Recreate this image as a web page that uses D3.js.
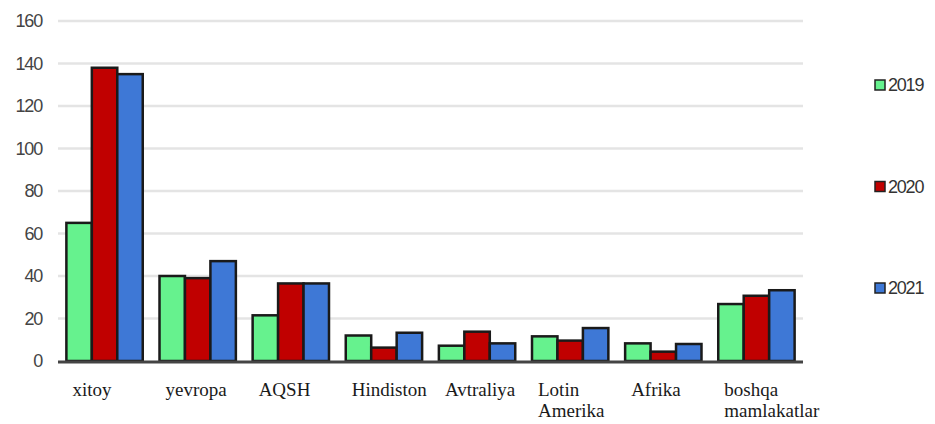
<!DOCTYPE html>
<html>
<head>
<meta charset="utf-8">
<script src="https://cdn.jsdelivr.net/npm/d3@7"></script>
<style>
  html, body { margin: 0; padding: 0; background: #fff; }
  svg { display: block; }
</style>
</head>
<body>
<svg id="chart" width="935" height="424"></svg>
<script>
// Regions (each label may wrap onto two lines)
const categories = [
  ["xitoy"],
  ["yevropa"],
  ["AQSH"],
  ["Hindiston"],
  ["Avtraliya"],
  ["Lotin", "Amerika"],
  ["Afrika"],
  ["boshqa", "mamlakatlar"]
];
const years = ["2019", "2020", "2021"];
const values2019 = [65, 40, 21.5, 12, 7.2, 11.6, 8.3, 26.8];
const values2020 = [138, 39, 36.5, 6.3, 13.8, 9.6, 4.4, 30.7];
const values2021 = [135, 47, 36.5, 13.3, 8.3, 15.5, 8, 33.3];
const yTicks = [0, 20, 40, 60, 80, 100, 120, 140, 160];
const colors = ["#66f28e", "#c00000", "#3e78d6"];

const series = [values2019, values2020, values2021];
const svg = d3.select("#chart");

const x0 = d3.scaleBand()
  .domain(d3.range(categories.length))
  .range([58, 803])
  .paddingInner(0.18)
  .paddingOuter(0.09);
const x1 = d3.scaleBand()
  .domain(years)
  .range([0, x0.bandwidth()]);
const y = d3.scaleLinear().domain([0, 160]).range([361, 21]);

// horizontal gridlines
svg.append("g")
  .selectAll("line")
  .data(yTicks.filter(t => t > 0))
  .join("line")
  .attr("x1", 58).attr("x2", 803)
  .attr("y1", d => y(d)).attr("y2", d => y(d))
  .attr("stroke", "#e4e4e4")
  .attr("stroke-width", 2.5);

// y axis tick labels
const yAxis = d3.axisLeft(y).tickValues(yTicks).tickSize(0).tickPadding(0);
const gy = svg.append("g").attr("transform", "translate(42,0)").call(yAxis);
gy.select(".domain").remove();
gy.selectAll("text")
  .attr("font-family", "Liberation Sans, Arial, sans-serif")
  .attr("font-size", 18)
  .attr("letter-spacing", "-1.2px")
  .attr("fill", "#444");

// bars
const groups = svg.append("g")
  .selectAll("g")
  .data(categories.map((c, i) => i))
  .join("g")
  .attr("transform", i => `translate(${x0(i)},0)`);

groups.selectAll("rect")
  .data(i => years.map((yr, k) => ({ yr, k, v: series[k][i] })))
  .join("rect")
  .attr("x", d => x1(d.yr))
  .attr("y", d => y(d.v))
  .attr("width", x1.bandwidth())
  .attr("height", d => y(0) - y(d.v))
  .attr("fill", d => colors[d.k])
  .attr("stroke", "#1a1a1a")
  .attr("stroke-width", 2.5);

// baseline
svg.append("line")
  .attr("x1", 58).attr("x2", 803)
  .attr("y1", y(0) + 1).attr("y2", y(0) + 1)
  .attr("stroke", "#444")
  .attr("stroke-width", 3);

// category labels
const labels = svg.append("g")
  .selectAll("text")
  .data(categories.map((c, i) => ({ c, i })))
  .join("text")
  .attr("x", d => x0(d.i) + 6)
  .attr("y", 396)
  .attr("font-family", "Liberation Serif, Times New Roman, serif")
  .attr("font-size", 19)
  .attr("fill", "#1a1a1a");
labels.selectAll("tspan")
  .data(d => d.c.map((line, j) => ({ line, j, x: x0(d.i) + 6 })))
  .join("tspan")
  .attr("x", d => d.x)
  .attr("dy", d => d.j === 0 ? 0 : 21)
  .text(d => d.line);

// legend
const legendY = d3.scalePoint().domain(years).range([85, 288]);
const legend = svg.append("g")
  .selectAll("g")
  .data(years)
  .join("g")
  .attr("transform", d => `translate(875,${legendY(d)})`);
legend.append("rect")
  .attr("x", 0).attr("y", -5)
  .attr("width", 10).attr("height", 10)
  .attr("fill", (d, i) => colors[i])
  .attr("stroke", "#222")
  .attr("stroke-width", 1.5);
legend.append("text")
  .attr("x", 13).attr("y", 0)
  .attr("dy", "0.35em")
  .attr("font-family", "Liberation Sans, Arial, sans-serif")
  .attr("font-size", 18)
  .attr("letter-spacing", "-1.2px")
  .attr("fill", "#333")
  .text(d => d);
</script>
</body>
</html>
